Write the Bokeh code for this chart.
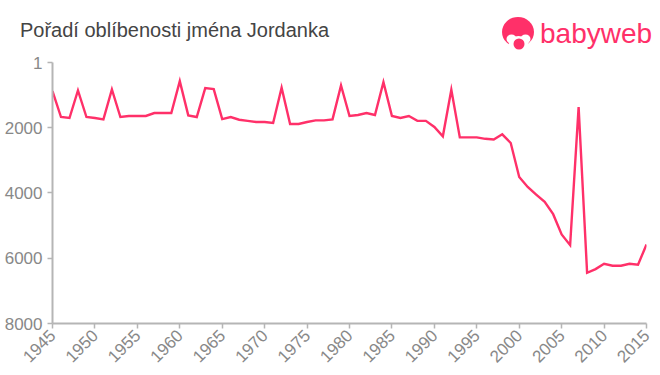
import numpy as np
from bokeh.plotting import figure
from bokeh.layouts import column
from bokeh.models import Range1d, FixedTicker, Div
from bokeh.embed import file_html
from bokeh.resources import INLINE

title_text = "Pořadí oblíbenosti jména Jordanka"
logo_text = "babyweb"
years = list(range(1945, 2016))
ranks = [878, 1672, 1703, 856, 1672, 1703, 1745, 826, 1672, 1640, 1640, 1640, 1550, 1550, 1550,
         571, 1621, 1672, 785, 816, 1735, 1672, 1755, 1790, 1825, 1825, 1855, 775, 1887, 1887,
         1825, 1775, 1775, 1745, 704, 1640, 1610, 1550, 1610, 602, 1640, 1703, 1640, 1790, 1790,
         1978, 2263, 836, 2295, 2295, 2295, 2340, 2360, 2202, 2468, 3508, 3814, 4048, 4272, 4650,
         5272, 5598, 1367, 6445, 6332, 6170, 6231, 6231, 6170, 6200, 5578]
y_ticks = [1, 2000, 4000, 6000, 8000]
x_ticks = list(range(1945, 2016, 5))

PINK = "#ff3069"
GREY = "#888888"
AXIS = "#b5b5b5"
W, H, STRIP = 660, 375, 52
F_LEFT, F_TOP, F_W, F_H = 52, 62, 594, 261
F_BOTTOM = F_TOP + F_H

# top strip: title and logo as an inline drawing, positions are page pixels
def ell(cx, cy, rx, ry, color):
    return f'<ellipse cx="{cx}" cy="{cy}" rx="{rx}" ry="{ry}" fill="{color}"/>'

strip_svg = (
    f'<svg xmlns="http://www.w3.org/2000/svg" width="{W}" height="{STRIP}" '
    f'style="display:block;position:absolute;left:0;top:0">'
    f'<text x="20" y="37" font-family="Liberation Sans" font-size="20" fill="#444444">{title_text}</text>'
    + ell(518, 32, 16, 15, PINK)
    + ell(511.5, 39, 5, 4.5, "white")
    + ell(525.5, 39, 5, 4.5, "white")
    + ell(518.5, 42, 9, 6, "white")
    + ell(518.5, 45, 10, 6, "white")
    + ell(519, 44, 5.5, 5.5, PINK)
    + f'<text x="540" y="43" font-family="Lato" font-size="28" fill="{PINK}">{logo_text}</text>'
    + '</svg>'
)
head = Div(text=f'<div style="position:relative;width:{W}px;height:{STRIP}px">{strip_svg}</div>',
           width=W, height=STRIP, margin=(0, 0, 0, 0), disable_math=True)

p = figure(width=W, height=H - STRIP, output_backend="svg", toolbar_location=None,
           x_range=Range1d(1945, 2015), y_range=Range1d(8000, 1),
           frame_width=F_W, frame_height=F_H,
           min_border_left=F_LEFT, min_border_right=W - F_LEFT - F_W,
           min_border_top=F_TOP - STRIP, min_border_bottom=H - F_BOTTOM,
           margin=(0, 0, 0, 0),
           background_fill_color="white", border_fill_color="white")
p.grid.visible = False
p.outline_line_color = None

for ax in (p.xaxis[0], p.yaxis[0]):
    ax.axis_line_color = AXIS
    ax.axis_line_width = 2
    ax.major_tick_line_color = AXIS
    ax.major_tick_line_width = 1.5
    ax.major_tick_out = 5
    ax.major_tick_in = 0
    ax.minor_tick_line_color = None
    ax.major_label_text_color = GREY
    ax.major_label_text_font = "Liberation Sans"
    ax.major_label_text_font_size = "17px"
p.xaxis[0].ticker = FixedTicker(ticks=x_ticks)
p.yaxis[0].ticker = FixedTicker(ticks=y_ticks)
p.xaxis[0].major_label_orientation = np.pi / 4
p.xaxis[0].major_label_standoff = 4
p.yaxis[0].major_label_standoff = 5

p.line(years, ranks, line_color=PINK, line_width=2.4, line_join="miter")

open("out.html", "w").write(file_html(column(head, p, spacing=0), INLINE))
